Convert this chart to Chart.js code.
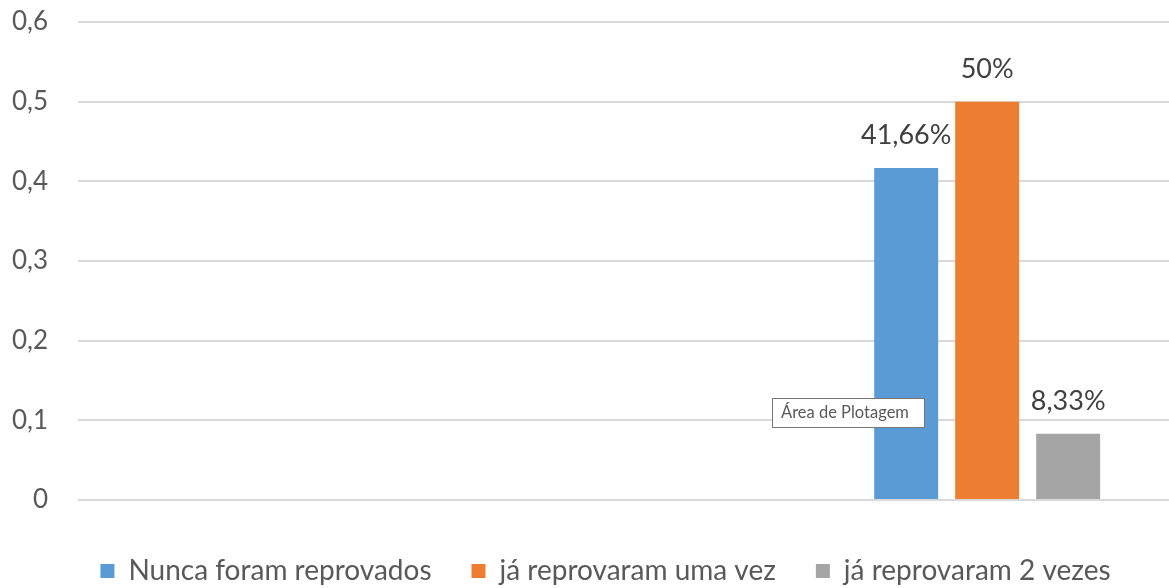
<!DOCTYPE html>
<html>
<head>
<meta charset="utf-8">
<script src="https://cdn.jsdelivr.net/npm/chart.js@4"></script>
<style>
  html, body { margin: 0; padding: 0; background: #fff; }
  #grafico { display: block; }
</style>
</head>
<body>
<canvas id="grafico" width="1169" height="588"></canvas>
<script>
// categorias do eixo x (so a ultima tem dados)
const categorias = ['', '', ''];

// proporcao de alunos por situacao
const nuncaReprovados = [null, null, 0.4166];
const reprovaramUmaVez = [null, null, 0.5];
const reprovaramDuasVezes = [null, null, 0.0833];

const nomesSeries = ['Nunca foram reprovados', 'já reprovaram uma vez', 'já reprovaram 2 vezes'];
const cores = ['#5b9bd5', '#ed7d31', '#a5a5a5'];

const fonte = 'Lato, "Open Sans", sans-serif';

// formata 0.4166 -> "41,66%"
function emPorcentagem(v) {
  return parseFloat((v * 100).toFixed(2)).toString().replace('.', ',') + '%';
}

// escreve o valor em cima de cada barra
const rotulosBarras = {
  id: 'rotulosBarras',
  afterDatasetsDraw(chart) {
    const ctx = chart.ctx;
    ctx.save();
    ctx.font = '27px ' + fonte;
    ctx.fillStyle = '#404040';
    ctx.textAlign = 'center';
    ctx.textBaseline = 'alphabetic';
    chart.data.datasets.forEach((ds, i) => {
      chart.getDatasetMeta(i).data.forEach((barra, j) => {
        const v = ds.data[j];
        if (v == null) return;
        ctx.fillText(emPorcentagem(v), barra.x, barra.y - 24);
      });
    });
    ctx.restore();
  }
};

// caixinha de dica "Área de Plotagem"
const dicaArea = {
  id: 'dicaArea',
  afterDraw(chart) {
    const ctx = chart.ctx;
    ctx.save();
    ctx.fillStyle = '#ffffff';
    ctx.fillRect(772.5, 398.5, 152, 29);
    ctx.strokeStyle = '#767676';
    ctx.lineWidth = 1;
    ctx.strokeRect(772.5, 398.5, 152, 29);
    ctx.font = '16.5px ' + fonte;
    ctx.fillStyle = '#595959';
    ctx.textAlign = 'left';
    ctx.textBaseline = 'middle';
    ctx.fillText('Área de Plotagem', 781, 413);
    ctx.restore();
  }
};

// empurra a legenda um pouco para a direita
const ajusteLegenda = {
  id: 'ajusteLegenda',
  afterLayout(chart) {
    chart.legend.left += 30;
  }
};

const grafico = new Chart(document.getElementById('grafico'), {
  type: 'bar',
  data: {
    labels: categorias,
    datasets: [
      { label: nomesSeries[0], data: nuncaReprovados, backgroundColor: cores[0] },
      { label: nomesSeries[1], data: reprovaramUmaVez, backgroundColor: cores[1] },
      { label: nomesSeries[2], data: reprovaramDuasVezes, backgroundColor: cores[2] }
    ]
  },
  options: {
    responsive: false,
    animation: false,
    events: [],
    categoryPercentage: 0.668,
    barPercentage: 0.79,
    layout: { padding: { left: 12, right: 0, top: 22, bottom: -7 } },
    scales: {
      x: {
        ticks: { display: false },
        grid: { display: false },
        border: { display: false },
        afterFit(escala) { escala.height = 17; }
      },
      y: {
        min: 0,
        max: 0.6,
        afterFit(escala) {
          escala.width = 66;
          escala.paddingTop = 0;
          escala.paddingBottom = 0;
        },
        ticks: {
          stepSize: 0.1,
          padding: 30,
          color: '#595959',
          font: { family: fonte, size: 26 },
          callback: v => Number(v.toFixed(1)).toString().replace('.', ',')
        },
        grid: { color: '#d9d9d9', lineWidth: 2, drawTicks: false },
        border: { display: false }
      }
    },
    plugins: {
      legend: {
        position: 'bottom',
        labels: {
          boxWidth: 14,
          boxHeight: 14,
          padding: 40,
          color: '#595959',
          font: { family: fonte, size: 28 }
        }
      },
      tooltip: { enabled: false }
    }
  },
  plugins: [rotulosBarras, dicaArea, ajusteLegenda]
});
</script>
</body>
</html>
